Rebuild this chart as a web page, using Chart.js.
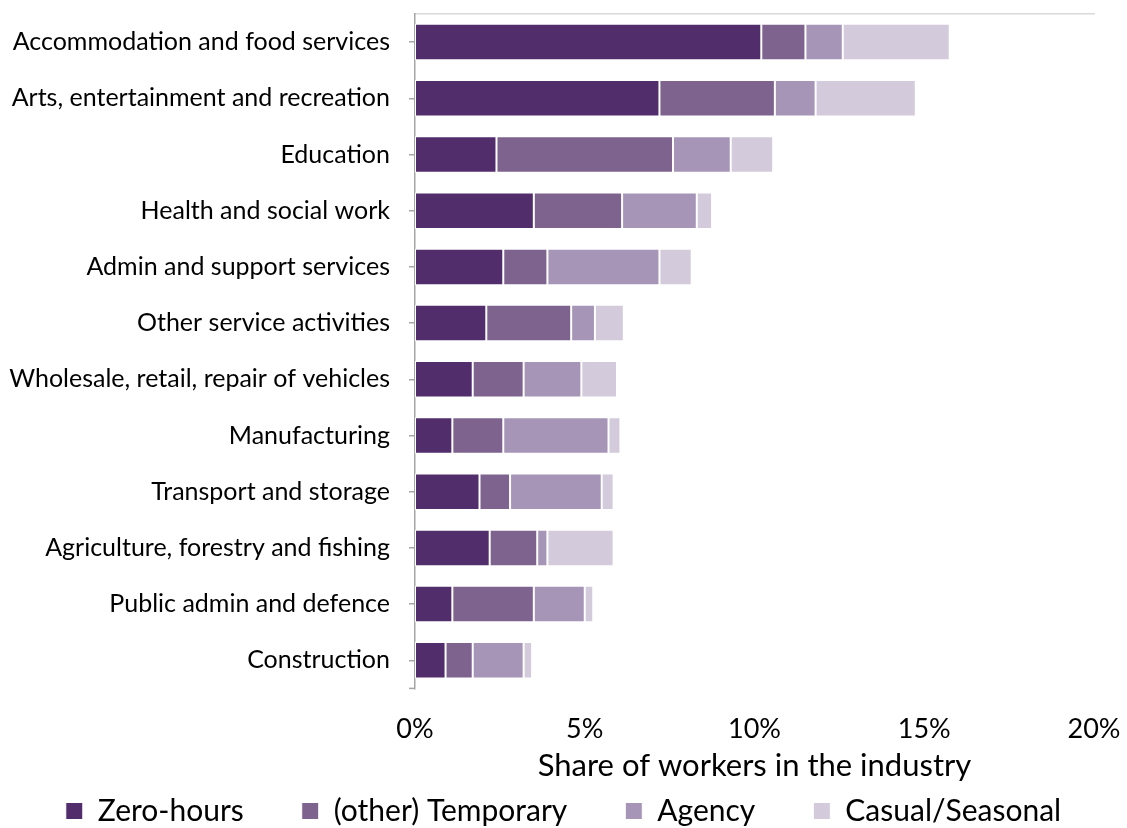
<!DOCTYPE html>
<html>
<head>
<meta charset="utf-8">
<script src="https://cdn.jsdelivr.net/npm/chart.js@4.4.1/dist/chart.umd.min.js"></script>
<style>
  html, body { margin: 0; padding: 0; background: #fff; }
  #wrap { width: 1127px; height: 828px; position: relative; }
</style>
</head>
<body>
<div id="wrap"><canvas id="workChart"></canvas></div>
<script>
// Industries, top to bottom
const industries = [
  'Accommodation and food services',
  'Arts, entertainment and recreation',
  'Education',
  'Health and social work',
  'Admin and support services',
  'Other service activities',
  'Wholesale, retail, repair of vehicles',
  'Manufacturing',
  'Transport and storage',
  'Agriculture, forestry and fishing',
  'Public admin and defence',
  'Construction'
];

// Share of workers (%) by contract type
const zeroHours = [10.2, 7.2, 2.4, 3.5, 2.6, 2.1, 1.7, 1.1, 1.9, 2.2, 1.1, 0.9];
const temporary = [1.3, 3.4, 5.2, 2.6, 1.3, 2.5, 1.5, 1.5, 0.9, 1.4, 2.4, 0.8];
const agency    = [1.1, 1.2, 1.7, 2.2, 3.3, 0.7, 1.7, 3.1, 2.7, 0.3, 1.5, 1.5];
const casual    = [3.15, 2.95, 1.25, 0.45, 0.95, 0.85, 1.05, 0.35, 0.35, 1.95, 0.25, 0.25];

const seriesNames = ['Zero-hours', '(other) Temporary', 'Agency', 'Casual/Seasonal'];
const seriesColors = ['#522d6c', '#7e638f', '#a695b6', '#d3cadb'];
const xTicks = [0, 5, 10, 15, 20];

const font = 'Lato, "Open Sans", sans-serif';

// small tick at the foot of the category axis
const axisFootTick = {
  id: 'axisFootTick',
  afterDraw(chart) {
    const y = chart.scales.y;
    const c = chart.ctx;
    c.save();
    c.strokeStyle = '#a6a6a6';
    c.lineWidth = 1.5;
    c.beginPath();
    c.moveTo(y.right - 6, y.bottom);
    c.lineTo(y.right, y.bottom);
    c.stroke();
    c.restore();
  }
};

// wide legend padding spaces the items apart; pull the box up so the
// extra top padding does not push the row away from the axis title
const legendLift = {
  id: 'legendLift',
  afterLayout(chart) {
    const lg = chart.legend;
    lg.top -= 48;
    lg.bottom -= 48;
  }
};

const ctx = document.getElementById('workChart').getContext('2d');
const chart = new Chart(ctx, {
  type: 'bar',
  data: {
    labels: industries,
    datasets: [zeroHours, temporary, agency, casual].map((vals, i) => ({
      label: seriesNames[i],
      data: vals,
      backgroundColor: seriesColors[i],
      borderColor: '#ffffff',
      borderWidth: 1,
      borderSkipped: false,
      barPercentage: 0.65,
      categoryPercentage: 1
    }))
  },
  plugins: [axisFootTick, legendLift],
  options: {
    indexAxis: 'y',
    responsive: true,
    maintainAspectRatio: false,
    animation: false,
    layout: { padding: { top: 6, right: 0, left: 0, bottom: -56 } },
    plugins: {
      tooltip: { enabled: false },
      legend: {
        position: 'bottom',
        labels: {
          color: '#000',
          font: { family: font, size: 30 },
          boxWidth: 17,
          boxHeight: 17,
          padding: 58
        }
      }
    },
    scales: {
      x: {
        stacked: true,
        min: 0,
        max: 20,
        afterBuildTicks: axis => { axis.ticks = xTicks.map(v => ({ value: v })); },
        afterFit: axis => { axis.paddingRight = 33; },
        ticks: {
          color: '#000',
          font: { family: font, size: 27 },
          padding: 17,
          callback: v => v + '%'
        },
        grid: { display: false },
        border: { display: false },
        title: {
          display: true,
          text: 'Share of workers in the industry',
          color: '#000',
          font: { family: font, size: 31 },
          padding: { top: -15, bottom: 1 }
        }
      },
      xTop: {
        type: 'linear',
        position: 'top',
        min: 0,
        max: 20,
        ticks: { display: false },
        grid: { display: false },
        border: { display: true, color: '#d9d9d9', width: 1.5 }
      },
      y: {
        stacked: true,
        afterFit: axis => {
          axis.width = 415;
          axis.paddingTop = 0;
          axis.paddingBottom = 0;
        },
        ticks: {
          color: '#000',
          font: { family: font, size: 25 },
          padding: 19
        },
        grid: {
          offset: false,
          drawOnChartArea: false,
          tickLength: 6,
          color: '#a6a6a6',
          lineWidth: 1.5
        },
        border: { color: '#a6a6a6', width: 1.5 }
      }
    }
  }
});
</script>
</body>
</html>
